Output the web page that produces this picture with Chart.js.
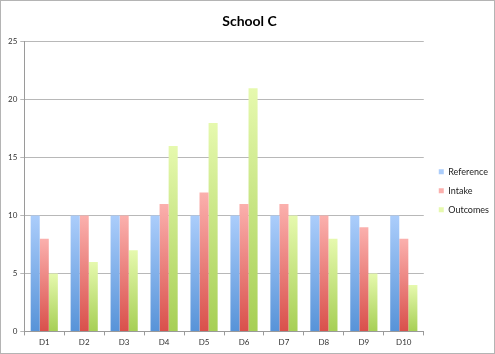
<!DOCTYPE html>
<html>
<head>
<meta charset="utf-8">
<script src="https://cdn.jsdelivr.net/npm/chart.js@4/dist/chart.umd.min.js"></script>
<style>
  html, body { margin: 0; padding: 0; background: #fff; }
  #wrap { width: 495px; height: 354px; box-sizing: border-box; border: 1px solid #b4b4b4; position: relative; }
</style>
</head>
<body>
<div id="wrap"><canvas id="chart"></canvas></div>
<script>
// data
const categories = ['D1', 'D2', 'D3', 'D4', 'D5', 'D6', 'D7', 'D8', 'D9', 'D10'];
const reference = [10, 10, 10, 10, 10, 10, 10, 10, 10, 10];
const intake = [8, 10, 10, 11, 12, 11, 11, 10, 9, 8];
const outcomes = [5, 6, 7, 16, 18, 21, 10, 8, 5, 4];
const yTicks = [0, 5, 10, 15, 20, 25];

// light top -> dark bottom, one gradient per bar
function barGradient(top, bottom, legendColor) {
    return (ctx) => {
        const chart = ctx.chart;
        if (!chart.chartArea || ctx.type !== 'data') return legendColor;
        const y = chart.scales.y;
        const y0 = y.getPixelForValue(ctx.parsed.y);
        const y1 = y.getPixelForValue(0);
        if (!(y1 > y0)) return legendColor;
        const g = chart.ctx.createLinearGradient(0, y0, 0, y1);
        g.addColorStop(0, top);
        g.addColorStop(1, bottom);
        return g;
    };
}

// nudge the legend a bit away from the plot
const legendShift = {
    id: 'legendShift',
    afterLayout(chart) {
        chart.legend.left += 5;
        chart.legend.right += 5;
    }
};

const data = {
    labels: categories,
    datasets: [{
        label: 'Reference',
        data: reference,
        backgroundColor: barGradient('#abcdfb', '#5793d8', '#6ea2e6')
    }, {
        label: 'Intake',
        data: intake,
        backgroundColor: barGradient('#fbb0ad', '#d9504b', '#e5625e')
    }, {
        label: 'Outcomes',
        data: outcomes,
        backgroundColor: barGradient('#e6f9ae', '#a6cf55', '#b8dc6c')
    }]
};

const tickFont = { family: 'Lato', size: 8 };

const config = {
    type: 'bar',
    data,
    options: {
        animation: false,
        responsive: true,
        maintainAspectRatio: false,
        categoryPercentage: 0.68,
        barPercentage: 1,
        layout: {
            padding: { left: 4, right: 0, bottom: 4 }
        },
        scales: {
            x: {
                grid: {
                    offset: true,
                    drawOnChartArea: false,
                    color: '#9a9a9a',
                    tickLength: 4
                },
                border: { color: '#9a9a9a' },
                ticks: { color: '#333', font: tickFont, padding: 2 }
            },
            y: {
                min: 0,
                max: 25,
                afterBuildTicks: (axis) => { axis.ticks = yTicks.map(v => ({ value: v })); },
                grid: {
                    color: '#b8b8b8',
                    tickLength: 4
                },
                border: { color: '#9a9a9a' },
                ticks: { color: '#333', font: tickFont, padding: 3 }
            }
        },
        plugins: {
            title: {
                display: true,
                text: 'School C',
                color: '#000',
                font: { family: 'Lato', size: 14, weight: 'bold' },
                padding: { top: 12, bottom: 12 }
            },
            legend: {
                position: 'right',
                title: {
                    display: true,
                    text: ' ',
                    font: { size: 8 },
                    padding: { top: 22, bottom: 0 }
                },
                labels: {
                    boxWidth: 5,
                    boxHeight: 5,
                    padding: 10,
                    color: '#222',
                    font: { family: 'Lato', size: 9 }
                }
            },
            tooltip: { enabled: false }
        }
    },
    plugins: [legendShift]
};

new Chart(document.getElementById('chart'), config);
</script>
</body>
</html>
